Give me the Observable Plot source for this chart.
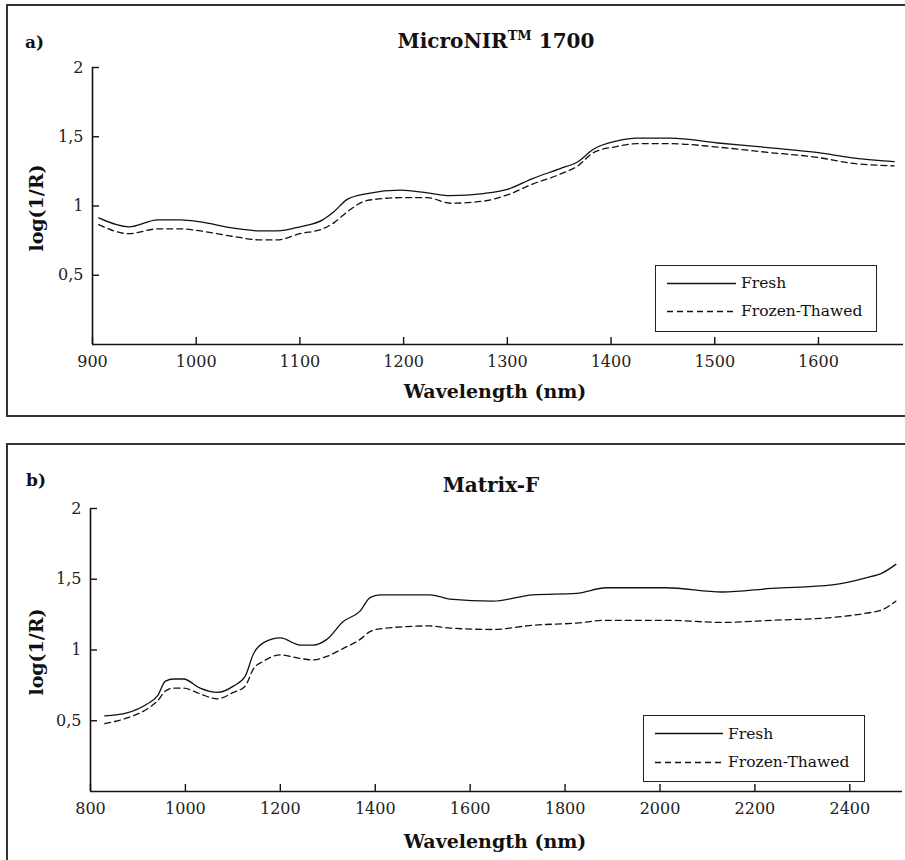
<!DOCTYPE html>
<html><head><meta charset="utf-8">
<script src="https://cdn.jsdelivr.net/npm/d3@7"></script>
<script src="https://cdn.jsdelivr.net/npm/@observablehq/plot@0.6"></script>
<style>
body{margin:0;background:#fff;}
#page{position:relative;width:905px;height:860px;overflow:hidden;font-family:"DejaVu Serif",serif;color:#111;}
.abs{position:absolute;white-space:nowrap;line-height:1;}
.frame{position:absolute;border:2px solid #333;box-sizing:border-box;}
.legend{position:absolute;border:1.5px solid #222;background:#fff;box-sizing:border-box;}
.legend svg{position:absolute;}
.lt{position:absolute;font-size:15.5px;line-height:1;white-space:nowrap;color:#111;}
.b{font-weight:bold;}
</style></head><body>
<div id="page">
  <div class="frame" style="left:6px;top:4px;width:940px;height:413px;"></div>
  <div class="frame" style="left:6px;top:443px;width:940px;height:500px;"></div>
  <div id="plotA" style="position:absolute;left:0;top:0"></div>
  <div id="plotB" style="position:absolute;left:0;top:420px"></div>

  <div class="abs b" style="left:25px;top:34px;font-size:17px;">a)</div>
  <div class="abs b" style="left:496px;top:31px;font-size:20px;transform:translateX(-50%);">MicroNIR<span style="position:relative;top:-8px;font-size:13px;">TM</span> 1700</div>
  <div class="abs b" style="left:36px;top:208px;font-size:19px;transform:translate(-50%,-50%) rotate(-90deg);">log(1/R)</div>
  <div class="abs b" style="left:495px;top:382px;font-size:19px;transform:translateX(-50%);">Wavelength (nm)</div>

  <div class="abs b" style="left:26px;top:472px;font-size:17px;">b)</div>
  <div class="abs b" style="left:491px;top:475px;font-size:20px;transform:translateX(-50%);">Matrix-F</div>
  <div class="abs b" style="left:36px;top:652px;font-size:19px;transform:translate(-50%,-50%) rotate(-90deg);">log(1/R)</div>
  <div class="abs b" style="left:495px;top:832px;font-size:19px;transform:translateX(-50%);">Wavelength (nm)</div>

  <div class="legend" style="left:655px;top:265px;width:222px;height:67px;">
    <svg width="80" height="60" style="left:11px;top:0"><line x1="0" x2="69" y1="17.5" y2="17.5" stroke="#111" stroke-width="1.3"/><line x1="0" x2="69" y1="45.5" y2="45.5" stroke="#111" stroke-width="1.3" stroke-dasharray="6,4"/></svg>
    <div class="lt" style="left:85px;top:10px;">Fresh</div>
    <div class="lt" style="left:85px;top:38px;">Frozen-Thawed</div>
  </div>
  <div class="legend" style="left:643px;top:715px;width:222px;height:67px;">
    <svg width="80" height="60" style="left:11px;top:0"><line x1="0" x2="68" y1="17.5" y2="17.5" stroke="#111" stroke-width="1.3"/><line x1="0" x2="68" y1="46.5" y2="46.5" stroke="#111" stroke-width="1.3" stroke-dasharray="6,4"/></svg>
    <div class="lt" style="left:84px;top:11px;">Fresh</div>
    <div class="lt" style="left:84px;top:39px;">Frozen-Thawed</div>
  </div>
</div>
<script>
// ---- Panel a: MicroNIR 1700 ----
const wavelengthA = [906, 935, 963, 985, 1004, 1036, 1062, 1078, 1100, 1122, 1133, 1146, 1165, 1197, 1223, 1245, 1277, 1300, 1325, 1351, 1368, 1383, 1406, 1425, 1457, 1503, 1554, 1600, 1631, 1673];
const freshA  = [0.914, 0.85, 0.90, 0.90, 0.885, 0.84, 0.82, 0.82, 0.85, 0.90, 0.96, 1.05, 1.09, 1.115, 1.095, 1.075, 1.09, 1.12, 1.20, 1.27, 1.32, 1.41, 1.47, 1.49, 1.49, 1.455, 1.42, 1.385, 1.35, 1.32];
const frozenA = [0.865, 0.80, 0.835, 0.835, 0.82, 0.78, 0.755, 0.755, 0.80, 0.835, 0.88, 0.96, 1.04, 1.06, 1.06, 1.02, 1.035, 1.08, 1.16, 1.23, 1.29, 1.385, 1.43, 1.45, 1.45, 1.425, 1.385, 1.35, 1.31, 1.29];
const xTicksA = [900, 1000, 1100, 1200, 1300, 1400, 1500, 1600];

// ---- Panel b: Matrix-F ----
const wavelengthB = [830, 877, 920, 941, 958, 975, 996, 1031, 1067, 1101, 1126, 1143, 1164, 1200, 1242, 1269, 1298, 1332, 1368, 1389, 1410, 1515, 1557, 1648, 1732, 1824, 1887, 2013, 2131, 2236, 2363, 2434, 2469, 2497];
const freshB  = [0.535, 0.556, 0.62, 0.675, 0.78, 0.795, 0.795, 0.73, 0.70, 0.745, 0.815, 0.97, 1.05, 1.085, 1.035, 1.035, 1.075, 1.20, 1.275, 1.37, 1.39, 1.39, 1.36, 1.345, 1.39, 1.40, 1.44, 1.44, 1.41, 1.435, 1.46, 1.51, 1.545, 1.605];
const frozenB = [0.48, 0.52, 0.585, 0.64, 0.71, 0.73, 0.73, 0.69, 0.655, 0.70, 0.745, 0.865, 0.92, 0.965, 0.94, 0.93, 0.955, 1.01, 1.075, 1.13, 1.15, 1.17, 1.155, 1.145, 1.175, 1.19, 1.21, 1.21, 1.195, 1.21, 1.23, 1.26, 1.285, 1.345];
const xTicksB = [800, 1000, 1200, 1400, 1600, 1800, 2000, 2200, 2400];

const yTicks = [0.5, 1, 1.5, 2];
const yTickLabels = ["0,5", "1", "1,5", "2"];

function panel({w, fresh, frozen, xTicks, xDomain, width, height, mt, mb, ml, mr}) {
  const fw = width - ml - mr, fh = height - mt - mb, tick = 7;
  const rows = w.map((d, i) => ({w: d, fresh: fresh[i], frozen: frozen[i]}));
  return Plot.plot({
    width, height, marginTop: mt, marginBottom: mb, marginLeft: ml, marginRight: mr,
    x: {domain: xDomain},
    y: {domain: [0, 2]},
    style: {fontFamily: "DejaVu Serif, serif", fontSize: "16px", background: "transparent", color: "#222", overflow: "visible"},
    marks: [
      Plot.line(rows, {x: "w", y: "fresh", stroke: "#111", strokeWidth: 1.3, curve: "monotone-x"}),
      Plot.line(rows, {x: "w", y: "frozen", stroke: "#111", strokeWidth: 1.3, strokeDasharray: "6,4", curve: "monotone-x"}),
      Plot.ruleY([0], {stroke: "#111", strokeWidth: 1.6}),
      Plot.ruleX([xDomain[0]], {stroke: "#111", strokeWidth: 1.6}),
      Plot.ruleX(xTicks, {x: d => d, insetTop: fh - tick, stroke: "#111", strokeWidth: 1.4}),
      Plot.ruleY(yTicks, {y: d => d, insetRight: fw - tick, stroke: "#111", strokeWidth: 1.4}),
      Plot.axisX({ticks: xTicks, tickSize: 0, tickPadding: 11, tickFormat: d => String(d), label: null, fill: "#222", fontSize: 16}),
      Plot.axisY({ticks: yTicks, tickSize: 0, tickPadding: 9, tickFormat: d => yTickLabels[yTicks.indexOf(d)], label: null, fill: "#222", fontSize: 16})
    ]
  });
}

document.getElementById("plotA").append(panel({
  w: wavelengthA, fresh: freshA, frozen: frozenA, xTicks: xTicksA, xDomain: [900, 1682],
  width: 905, height: 420, mt: 67, mb: 76, ml: 92, mr: 2
}));
document.getElementById("plotB").append(panel({
  w: wavelengthB, fresh: freshB, frozen: frozenB, xTicks: xTicksB, xDomain: [800, 2511],
  width: 905, height: 440, mt: 88, mb: 69, ml: 90, mr: 3
}));
</script>
</body></html>
